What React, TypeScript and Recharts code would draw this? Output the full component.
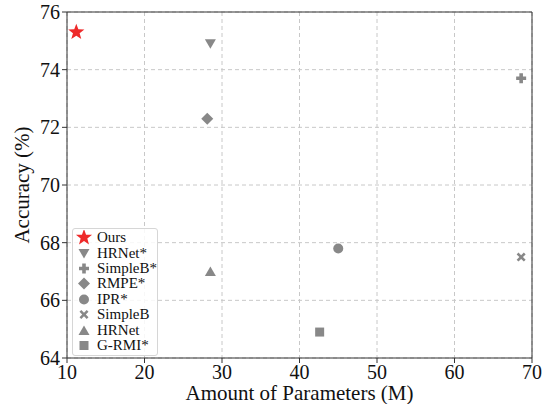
import {
  ScatterChart,
  Scatter,
  XAxis,
  YAxis,
  CartesianGrid,
  ReferenceLine,
} from "recharts";

const methods = ["Ours", "HRNet*", "SimpleB*", "RMPE*", "IPR*", "SimpleB", "HRNet", "G-RMI*"];
const params = [11.2, 28.5, 68.6, 28.1, 45.0, 68.6, 28.5, 42.6];
const accuracy = [75.3, 74.9, 73.7, 72.3, 67.8, 67.5, 67.0, 64.9];
const markers = ["star", "tridown", "plus", "diamond", "circle", "xfill", "triangle", "square"];
const colors = ["#ee2a2a", "#888888", "#888888", "#888888", "#888888", "#888888", "#888888", "#888888"];

const xTicks = [10, 20, 30, 40, 50, 60, 70];
const yTicks = [64, 66, 68, 70, 72, 74, 76];

const FONT = "Liberation Serif";

const markerPath = (kind: string, cx: number, cy: number): string => {
  switch (kind) {
    case "star": {
      const pts: string[] = [];
      for (let i = 0; i < 10; i++) {
        const r = i % 2 === 0 ? 8.5 : 3.5;
        const a = (Math.PI / 5) * i - Math.PI / 2;
        pts.push(`${cx + r * Math.cos(a)},${cy + r * Math.sin(a)}`);
      }
      return `M${pts.join("L")}Z`;
    }
    case "tridown":
      return `M${cx - 5.5},${cy - 4.5}L${cx + 5.5},${cy - 4.5}L${cx},${cy + 5}Z`;
    case "triangle":
      return `M${cx - 5.5},${cy + 4.5}L${cx + 5.5},${cy + 4.5}L${cx},${cy - 5}Z`;
    case "diamond":
      return `M${cx},${cy - 6}L${cx + 6},${cy}L${cx},${cy + 6}L${cx - 6},${cy}Z`;
    case "square":
      return `M${cx - 4.5},${cy - 4.5}h9v9h-9Z`;
    case "plus": {
      const a = 1.8, b = 5;
      return `M${cx - a},${cy - b}h${2 * a}v${b - a}h${b - a}v${2 * a}h${a - b}v${b - a}h${-2 * a}v${a - b}h${a - b}v${-2 * a}h${b - a}Z`;
    }
    case "xfill": {
      const d = 1.8, e = 4.5;
      return `M${cx - e + d},${cy - e}L${cx},${cy - d}L${cx + e - d},${cy - e}L${cx + e},${cy - e + d}L${cx + d},${cy}L${cx + e},${cy + e - d}L${cx + e - d},${cy + e}L${cx},${cy + d}L${cx - e + d},${cy + e}L${cx - e},${cy + e - d}L${cx - d},${cy}L${cx - e},${cy - e + d}Z`;
    }
    default:
      return "";
  }
};

const Marker = ({ kind, cx, cy, fill }: { kind: string; cx: number; cy: number; fill: string }) =>
  kind === "circle" ? (
    <circle cx={cx} cy={cy} r={5} fill={fill} />
  ) : (
    <path d={markerPath(kind, cx, cy)} fill={fill} />
  );

const Legend = () => (
  <div
    style={{
      position: "absolute",
      left: 72,
      top: 228,
      width: 86,
      height: 128,
      border: "1px solid #d6d6d6",
      borderRadius: 3,
      background: "rgba(255,255,255,0.85)",
      fontFamily: FONT,
      fontSize: 15,
      color: "#111",
      boxSizing: "border-box",
      paddingTop: 1,
    }}
  >
    {methods.map((m, i) => (
      <div key={m} style={{ display: "flex", alignItems: "center", height: 15.4 }}>
        <svg width={24} height={15} style={{ flexShrink: 0 }}>
          <Marker kind={markers[i]} cx={11} cy={7.5} fill={colors[i]} />
        </svg>
        <span style={{ lineHeight: "15px" }}>{m}</span>
      </div>
    ))}
  </div>
);

const tickStyle = { fill: "#111", fontSize: 20, fontFamily: FONT };
const labelStyle = { fill: "#111", fontSize: 21, fontFamily: FONT };

export default function App() {
  return (
    <div style={{ position: "relative", width: 556, height: 404, background: "#fff", fontFamily: FONT }}>
      <style>{"body{margin:0} .recharts-wrapper text{font-family:'Liberation Serif',serif}"}</style>
      <ScatterChart width={556} height={404} margin={{ top: 12, right: 24, bottom: 0, left: 0 }}>
        <CartesianGrid stroke="#c8c8c8" strokeDasharray="4 3" />
        <XAxis
          type="number"
          dataKey="x"
          domain={[10, 70]}
          ticks={xTicks}
          height={46}
          stroke="#333"
          tickSize={5}
          tick={tickStyle}
          label={{ value: "Amount of Parameters (M)", position: "insideBottom", offset: 4, ...labelStyle }}
        />
        <YAxis
          type="number"
          dataKey="y"
          domain={[64, 76]}
          ticks={yTicks}
          width={67}
          stroke="#333"
          tickSize={5}
          tick={tickStyle}
          label={{ value: "Accuracy (%)", angle: -90, position: "insideLeft", offset: 22, ...labelStyle, style: { textAnchor: "middle" } }}
        />
        <ReferenceLine y={76} stroke="#333" />
        <ReferenceLine x={70} stroke="#333" />
        {methods.map((m, i) => (
          <Scatter
            key={m}
            name={m}
            data={[{ x: params[i], y: accuracy[i] }]}
            isAnimationActive={false}
            shape={(p: any) => <Marker kind={markers[i]} cx={p.cx} cy={p.cy} fill={colors[i]} />}
          />
        ))}
      </ScatterChart>
      <Legend />
    </div>
  );
}
